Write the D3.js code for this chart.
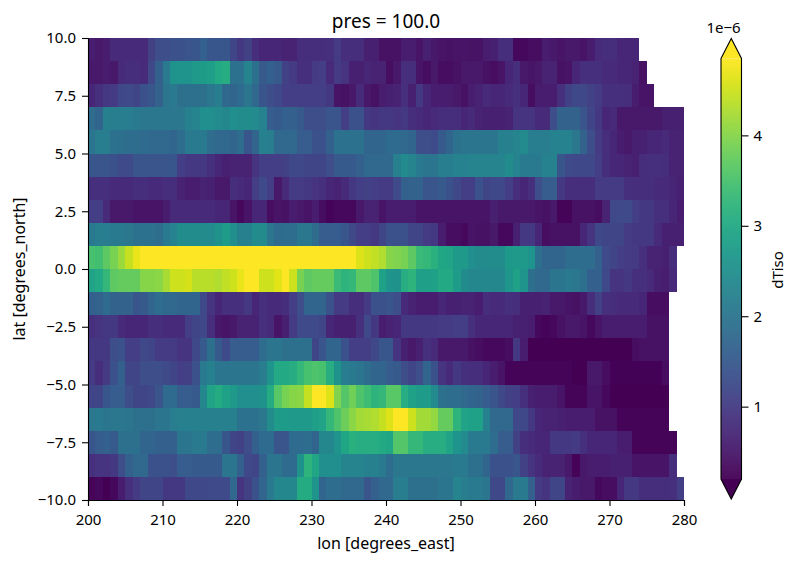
<!DOCTYPE html>
<html>
<head>
<meta charset="utf-8">
<script src="https://cdn.jsdelivr.net/npm/d3@7"></script>
<style>
html, body { margin: 0; padding: 0; background: #fff; }
svg { display: block; }
text { font-family: "Noto Sans", sans-serif; fill: #000; }
</style>
</head>
<body>
<div id="chart"></div>
<script>
// dTiso in units of 1e-6, one array per latitude band, west to east from lon 200.
// Bands run out short on the east side where the data has no values (land).
var lat_9 = [.55,.5,.55,.75,.75,.75,.75,.75,1.1,1.3,
  1.3,1.35,1.35,1.4,1.45,1.6,1.45,1.45,1.45,1.15,
  .95,1.1,.8,.7,.7,.7,.65,.65,.8,.8,
  .8,.8,.85,1.0,.8,.8,.8,.6,.6,.4,
  .4,.4,.55,.55,.45,.6,.5,.45,.4,.45,
  .45,.42,.42,.55,.6,.8,.8,.3,.3,.35,
  .35,.55,.5,.45,.5,.5,.45,.55,.75,.8,
  .8,.7,.7,.7];
var lat_8 = [.5,.5,.55,.5,.75,.8,.8,.75,1.2,1.6,
  2.1,2.55,2.6,2.6,2.7,2.75,2.8,3.0,3.1,1.95,
  1.95,2.3,1.9,1.5,1.6,1.5,1.1,1.0,.85,.85,
  1.0,1.05,.75,1.0,.9,.6,.6,.7,.65,.65,
  .35,.5,.8,.8,.45,.35,.5,.35,.35,.4,
  .5,.5,.5,.4,.35,.45,.7,.8,.5,.45,
  .5,.65,.65,.4,.45,.7,.85,.85,.85,.75,
  .75,.7,.7,.65,.4];
var lat_7 = [.7,.85,.95,1.0,1.2,1.25,1.15,1.35,1.45,1.65,
  2.0,2.1,1.9,1.9,1.9,1.9,2.05,2.15,1.75,1.7,
  1.8,2.0,1.75,1.4,1.3,1.2,1.05,1.05,1.05,1.05,
  1.05,1.05,.95,.45,.4,.5,.75,.5,.4,.55,
  .6,.65,.85,.6,.95,.7,.55,.55,.55,.5,
  .4,.55,.65,.75,.7,.7,.75,.85,.7,.35,
  .55,.55,.55,.85,1.1,1.2,1.2,1.1,1.0,.85,
  .85,.85,.8,.55,.45,.45];
var lat_6 = [1.85,1.7,2.2,2.15,2.15,2.15,2.1,2.05,2.05,2.05,
  2.05,2.05,2.05,2.2,2.3,2.5,2.5,2.4,2.35,2.5,
  2.45,2.45,2.4,2.25,1.55,1.5,1.6,1.6,1.5,1.3,
  1.3,1.3,1.4,1.4,1.05,1.35,1.35,.95,.9,.95,
  .95,.9,.95,.8,.75,.7,.75,.8,.8,.8,
  .7,.75,.65,.6,.6,.6,.65,.9,.9,.9,
  .75,.75,1.3,1.65,1.65,1.65,1.4,1.15,.95,.7,
  .75,.5,.5,.5,.5,.5,.5,.6,.6,.6];
var lat_5 = [2.0,2.15,2.15,1.95,1.9,1.85,1.85,1.8,1.75,1.75,
  1.75,1.7,1.85,2.1,2.1,2.1,1.85,1.75,1.75,1.7,
  1.85,1.45,1.7,2.2,2.15,1.75,1.75,1.75,1.55,1.55,
  1.35,1.35,1.6,1.95,1.95,1.95,1.95,1.7,1.7,1.7,
  1.8,1.8,1.75,1.7,1.3,1.3,1.25,1.5,1.7,1.95,
  2.0,2.0,2.0,2.0,2.0,2.2,2.2,2.3,2.4,2.15,
  2.15,2.15,2.25,2.25,2.25,2.05,1.65,1.3,1.0,.8,
  .7,.55,.5,.6,.6,.7,.7,.75,.65,.65];
var lat_4 = [1.45,1.4,1.4,1.35,1.25,1.25,1.4,1.4,1.4,1.4,
  1.45,1.45,1.05,.95,.95,.95,.85,.7,.6,.65,
  .65,.65,.9,1.05,1.05,1.05,1.1,1.2,1.2,1.15,
  1.15,1.15,1.3,1.5,1.5,1.5,1.6,1.75,1.75,1.75,
  1.75,2.2,2.4,2.3,2.1,2.0,2.0,2.15,2.15,2.25,
  2.25,2.3,2.3,2.3,2.3,2.3,2.45,2.25,2.1,2.1,
  2.1,2.25,2.25,1.45,1.25,1.2,1.2,1.2,1.05,.8,
  .7,.7,.65,.6,.8,.85,.85,.8,.65,.65];
var lat_3 = [.85,.85,.85,.75,.75,.75,.8,.8,.75,.75,
  .8,.8,.65,.55,.55,.65,.6,.5,.5,.8,
  .75,.7,1.05,1.25,1.05,.5,.75,1.0,1.0,.95,
  .9,.85,.7,.65,.75,.95,1.05,1.1,1.05,1.0,
  1.0,1.25,1.6,1.65,1.65,1.4,1.4,1.5,1.35,1.2,
  1.05,1.05,1.35,1.15,1.2,1.2,1.05,.8,.7,.85,
  1.3,1.55,1.55,.95,.8,.8,.8,.8,1.0,1.0,
  1.0,1.0,.85,.8,.8,.8,.75,.75,.7,.6];
var lat_2 = [1.05,1.05,.75,.5,.5,.5,.45,.45,.45,.45,
  .55,.75,.75,.75,.75,.75,.75,.7,.7,.45,
  .3,.45,.7,.7,.35,.45,.4,.55,.5,.45,
  .55,.35,.25,.3,.3,.3,.5,.65,.65,.45,
  .55,.55,.55,.55,.45,.45,.45,.45,.45,.45,
  .45,.45,.45,.45,.6,.5,.5,.5,.5,.5,
  .45,.4,.5,.25,.25,.4,.4,.4,.35,.65,
  1.2,1.25,1.25,1.05,.95,.95,.85,.85,.7,.55];
var lat_1 = [2.1,2.15,2.15,2.1,2.1,2.05,1.95,1.95,1.95,1.85,
  2.1,2.25,2.45,2.45,2.45,2.45,2.4,2.55,2.75,2.5,
  2.2,2.2,2.45,2.4,2.0,1.8,1.85,1.85,2.05,2.05,
  1.85,1.55,1.55,1.55,1.45,1.2,1.05,1.05,.95,1.15,
  1.35,1.35,1.35,1.15,1.15,1.0,.95,.55,.35,.35,
  .3,.45,.4,.4,.5,.3,.3,.6,.95,.95,
  .7,.35,.4,.4,.4,.4,.7,.9,1.2,1.15,
  1.15,1.15,1.0,.95,.95,.95,.75,.6,.6,.6];
var lat_0 = [3.5,3.45,3.7,3.9,4.15,4.45,4.7,5,5,5,
  5,5,5,5,5,5,5,5,5,5,
  5,5,5,5,5,5,5,5,5,5,
  5,5,5,5,5,5,4.6,4.5,4.4,4.3,
  4.0,3.95,3.9,3.7,3.35,3.3,3.15,2.95,2.9,2.7,
  2.7,2.5,2.4,2.45,2.45,2.45,2.7,2.7,2.7,2.6,
  1.9,1.7,1.7,1.7,1.85,1.85,1.85,1.85,1.6,1.25,
  1.15,1.05,1.0,1.0,.85,.65,.65,.6,.8];
var lat_m1 = [2.9,3.0,3.3,3.7,3.75,3.75,3.75,4.0,4.0,4.05,
  4.25,4.5,4.5,4.55,4.35,4.35,4.35,4.3,4.4,4.5,
  4.7,4.85,4.85,4.5,4.5,4.65,4.85,4.5,3.9,3.7,
  3.75,3.75,3.75,3.35,3.2,3.3,3.7,3.7,3.55,2.85,
  2.6,2.55,3.1,3.2,2.8,2.8,2.85,3.0,3.0,2.75,
  2.45,2.35,2.35,2.35,2.35,2.35,2.65,2.85,2.6,1.9,
  1.75,1.75,2.0,2.0,2.1,2.05,1.9,1.6,1.6,1.2,
  .9,.9,.95,.85,.85,.75,.6,.55,.75];
var lat_m2 = [1.6,1.65,1.8,1.65,1.65,1.65,1.45,1.5,1.7,1.85,
  1.75,1.75,1.7,1.7,1.7,1.2,.9,.7,.85,.85,
  .85,.95,.7,.85,.75,.75,.8,1.05,1.3,1.7,
  1.7,1.7,1.35,1.0,1.0,.8,.8,1.0,1.35,1.35,
  1.4,1.3,.75,.65,.55,.55,.55,.7,.6,.6,
  .65,.65,.55,.8,.75,.75,.85,.8,.6,.6,
  .6,.65,.5,.5,.45,.4,.5,.8,1.1,.85,
  .8,.75,.75,.75,.7,.35,.35,.35];
var lat_m3 = [.85,.9,.95,.95,.75,.7,.7,.7,.8,.8,
  .75,.75,.75,1.05,1.15,1.2,.8,.5,.45,.5,
  .65,.65,.65,.85,.75,.45,.6,1.0,1.25,1.25,
  1.25,1.15,.7,.6,.6,.6,.85,1.2,.95,.55,
  .65,.7,.95,.95,.95,.95,.95,1.0,1.0,1.05,
  1.05,.85,.7,.7,.7,.7,.7,.6,.6,.55,
  .3,.25,.3,.4,.5,.5,.45,.3,.45,.55,
  .55,.55,.55,.55,.55,.4,.4,.4];
var lat_m4 = [.95,.95,.95,1.3,1.35,1.05,1.05,1.2,1.15,1.0,
  1.0,1.0,.9,.9,1.2,1.5,1.9,1.5,1.25,1.55,
  1.55,1.55,1.55,1.85,2.0,2.0,1.9,1.9,1.9,1.9,
  1.15,1.4,1.7,1.7,1.35,1.05,1.05,1.05,1.2,1.45,
  1.45,.9,.6,.5,.6,.85,.75,.5,.5,.5,
  .5,.4,.35,.3,.3,.3,.35,.95,.55,.2,
  .2,.2,.2,.2,.2,.2,.2,.2,.2,.2,
  .2,.2,.2,.35,.4,.4,.4,.4];
var lat_m5 = [1.0,.8,1.0,1.35,1.6,1.15,1.15,1.3,1.3,1.3,
  1.25,1.15,1.05,1.1,1.35,2.1,2.2,2.0,2.0,2.0,
  2.0,2.0,2.0,2.15,2.6,3.0,3.0,3.1,3.3,3.5,
  3.55,3.5,3.1,2.55,2.15,2.1,2.0,1.85,1.7,1.7,
  1.55,1.5,1.3,1.15,1.3,1.7,1.35,.9,.75,.95,
  .85,.8,.8,.7,.55,.45,.25,.25,.25,.25,
  .25,.25,.25,.25,.25,.2,.2,.5,.5,.35,
  .22,.22,.22,.22,.22,.22,.22,.35];
var lat_m6 = [1.15,1.15,1.45,1.55,1.55,1.3,1.15,1.15,1.2,1.4,
  1.8,1.8,1.55,1.55,1.5,2.35,2.9,3.05,2.85,2.7,
  2.5,2.5,2.5,2.55,3.05,3.65,3.9,4.0,4.05,4.45,
  4.85,4.85,4.6,3.95,3.6,3.85,3.55,3.4,3.2,3.3,
  3.65,3.65,3.1,2.85,2.75,2.75,2.4,1.9,1.85,1.85,
  1.75,1.7,1.65,1.55,1.4,1.2,1.1,1.05,.85,.6,
  .55,.55,.55,.45,.25,.25,.25,.45,.45,.3,
  .2,.2,.2,.2,.2,.2,.2,.2];
var lat_m7 = [2.05,2.1,2.0,2.05,2.05,2.0,1.9,1.9,1.9,2.0,
  2.0,2.15,2.2,2.2,2.2,2.2,2.2,2.2,2.2,2.2,
  1.95,1.95,1.95,2.05,2.45,2.75,2.75,2.7,2.7,2.7,
  2.8,2.9,3.3,3.55,3.8,4.05,4.2,4.25,4.3,4.45,
  4.6,4.85,4.85,4.5,4.2,4.2,4.1,3.75,3.75,3.2,
  2.9,2.85,2.85,2.2,1.75,1.75,1.75,1.2,1.2,.95,
  .7,.65,.65,.6,.55,.55,.55,.55,.4,.4,
  .4,.25,.25,.25,.25,.25,.25,.25];
var lat_m8 = [1.45,1.55,1.6,1.5,1.9,1.9,1.9,1.7,1.7,1.6,
  1.6,1.6,2.0,2.0,2.1,2.1,1.85,1.85,1.45,1.15,
  1.1,1.3,1.6,1.8,1.8,1.4,1.4,1.8,1.8,1.85,
  1.7,2.35,2.35,2.6,2.95,3.15,3.1,3.1,3.1,3.0,
  2.95,3.6,3.6,3.3,3.3,3.1,3.1,3.1,2.9,2.6,
  2.4,2.1,2.1,2.1,1.85,1.55,1.55,1.1,.8,.75,
  .7,.7,.95,.95,.95,1.0,.85,.7,.7,.7,
  .7,.55,.55,.25,.25,.25,.25,.25,.25];
var lat_m9 = [.85,.9,.9,.95,1.3,1.6,1.75,1.75,1.35,1.35,
  1.35,1.3,1.55,1.55,1.5,1.5,1.5,1.5,2.0,2.0,
  1.6,1.2,1.15,1.6,2.0,2.0,1.8,1.8,2.55,3.2,
  2.95,2.5,2.5,2.5,2.3,2.3,2.3,2.2,2.2,2.1,
  1.85,2.05,2.05,2.05,2.05,2.05,2.05,2.05,2.05,2.1,
  2.1,1.9,1.9,1.7,1.35,1.35,1.35,1.45,1.1,.9,
  .75,.65,.65,.65,.5,.25,.5,.55,.55,.55,
  .6,.6,.6,.45,.45,.45,.45,.45,.8];
var lat_m10 = [.25,.3,.2,.3,.55,.85,1.0,1.15,1.15,1.15,
  .95,.95,.95,1.2,1.2,1.2,1.25,1.25,1.25,1.75,
  .9,1.1,1.35,1.7,2.1,2.35,2.35,2.35,3.05,3.05,
  2.6,1.7,1.85,1.85,1.75,1.75,1.75,1.4,1.6,1.75,
  1.75,2.15,2.15,1.9,1.9,1.9,1.9,2.0,2.0,2.3,
  2.15,2.1,2.1,2.0,1.2,1.2,1.75,2.1,2.1,1.6,
  1.0,.9,1.15,1.15,.65,.55,.5,.5,.3,.35,
  .35,.7,.95,.95,.8,.8,.8,.8,.85,1.05];

// north to south, same order as the picture
var bands = [
  {south: 9, values: lat_9}, {south: 8, values: lat_8}, {south: 7, values: lat_7},
  {south: 6, values: lat_6}, {south: 5, values: lat_5}, {south: 4, values: lat_4},
  {south: 3, values: lat_3}, {south: 2, values: lat_2}, {south: 1, values: lat_1},
  {south: 0, values: lat_0}, {south: -1, values: lat_m1}, {south: -2, values: lat_m2},
  {south: -3, values: lat_m3}, {south: -4, values: lat_m4}, {south: -5, values: lat_m5},
  {south: -6, values: lat_m6}, {south: -7, values: lat_m7}, {south: -8, values: lat_m8},
  {south: -9, values: lat_m9}, {south: -10, values: lat_m10}
];

var lonTicks = [200, 210, 220, 230, 240, 250, 260, 270, 280];
var latTicks = [-10, -7.5, -5, -2.5, 0, 2.5, 5, 7.5, 10];
var barTicks = [1, 2, 3, 4];
var vmin = 0.2, vmax = 4.85;

function init() {
    var w = 797, h = 563;
    var tickFont = "15px", labelFont = "16px";
    var svg = d3.select("#chart").append("svg")
        .attr("width", w)
        .attr("height", h);

    var x = d3.scaleLinear().domain([200, 280]).range([88, 684]);
    var y = d3.scaleLinear().domain([-10, 10]).range([500, 38]);
    var color = d3.scaleSequential(d3.interpolateViridis).domain([vmin, vmax]).clamp(true);

    var rows = svg.append("g").attr("shape-rendering", "crispEdges")
        .selectAll("g")
        .data(bands)
        .enter()
        .append("g");

    rows.selectAll("rect")
        .data(function (d) {
            return d.values.map(function (v, i) {
                return {lon: 200 + i, south: d.south, v: v};
            });
        })
        .enter()
        .append("rect")
        .attr("x", function (d) { return x(d.lon); })
        .attr("y", function (d) { return y(d.south + 1); })
        .attr("width", function (d) { return x(d.lon + 1) - x(d.lon); })
        .attr("height", function (d) { return y(d.south) - y(d.south + 1); })
        .attr("fill", function (d) { return color(d.v); });

    var xAxis = d3.axisBottom(x)
        .tickValues(lonTicks)
        .tickSize(6)
        .tickFormat(d3.format("d"));
    var yAxis = d3.axisLeft(y)
        .tickValues(latTicks)
        .tickSize(6)
        .tickPadding(6)
        .tickFormat(function (d) { return d3.format(".1f")(d).replace("-", "\u2212"); });

    var gx = svg.append("g").attr("transform", "translate(0,500)").call(xAxis);
    var gy = svg.append("g").attr("transform", "translate(88,0)").call(yAxis);
    gx.selectAll(".tick text").attr("y", 24.7).attr("dy", 0);
    [gx, gy].forEach(function (g) {
        g.select(".domain").attr("stroke", "#000").attr("stroke-width", 1.1);
        g.selectAll(".tick line").attr("stroke", "#000").attr("stroke-width", 1.1);
        g.selectAll(".tick text").style("font-size", tickFont).style("font-family", '"Noto Sans", sans-serif');
    });

    svg.append("text")
        .attr("x", 386).attr("y", 28.3)
        .attr("text-anchor", "middle")
        .style("font-size", "19px")
        .text("pres = 100.0");
    svg.append("text")
        .attr("x", 386).attr("y", 549)
        .attr("text-anchor", "middle")
        .style("font-size", labelFont)
        .text("lon [degrees_east]");
    svg.append("text")
        .attr("transform", "translate(25,269) rotate(-90)")
        .attr("text-anchor", "middle")
        .style("font-size", labelFont)
        .text("lat [degrees_north]");

    // colorbar with the two extend arrows
    var barY = d3.scaleLinear().domain([vmin, vmax]).range([479, 58.5]);
    var barL = 721, barR = 741.5, barM = (barL + barR) / 2;
    var stops = d3.range(0, 421);

    svg.append("g").selectAll("rect")
        .data(stops)
        .enter()
        .append("rect")
        .attr("x", barL)
        .attr("width", barR - barL)
        .attr("y", function (d) { return 58.5 + d; })
        .attr("height", 1.4)
        .attr("fill", function (d) { return color(barY.invert(58.5 + d + 0.5)); });

    svg.append("path")
        .attr("d", d3.line()([[barL, 58.5], [barM, 38.5], [barR, 58.5]]))
        .attr("fill", color(vmax));
    svg.append("path")
        .attr("d", d3.line()([[barL, 479], [barM, 499], [barR, 479]]))
        .attr("fill", color(vmin));
    svg.append("path")
        .attr("d", d3.line()([[barL, 58.5], [barM, 38.5], [barR, 58.5], [barR, 479], [barM, 499], [barL, 479]]) + "Z")
        .attr("fill", "none")
        .attr("stroke", "#000")
        .attr("stroke-width", 1.1);

    var barAxis = d3.axisRight(barY)
        .tickValues(barTicks)
        .tickSize(7)
        .tickPadding(5)
        .tickFormat(d3.format("d"));
    var gb = svg.append("g").attr("transform", "translate(" + barR + ",0)").call(barAxis);
    gb.select(".domain").remove();
    gb.selectAll(".tick line").attr("stroke", "#000").attr("stroke-width", 1.1);
    gb.selectAll(".tick text").style("font-size", tickFont).style("font-family", '"Noto Sans", sans-serif');

    svg.append("text")
        .attr("x", 723.5).attr("y", 32.7)
        .attr("text-anchor", "middle")
        .style("font-size", tickFont)
        .text("1e\u22126");
    svg.append("text")
        .attr("transform", "translate(783,270) rotate(-90)")
        .attr("text-anchor", "middle")
        .style("font-size", tickFont)
        .text("dTiso");
}
window.onload = init;
</script>
</body>
</html>
